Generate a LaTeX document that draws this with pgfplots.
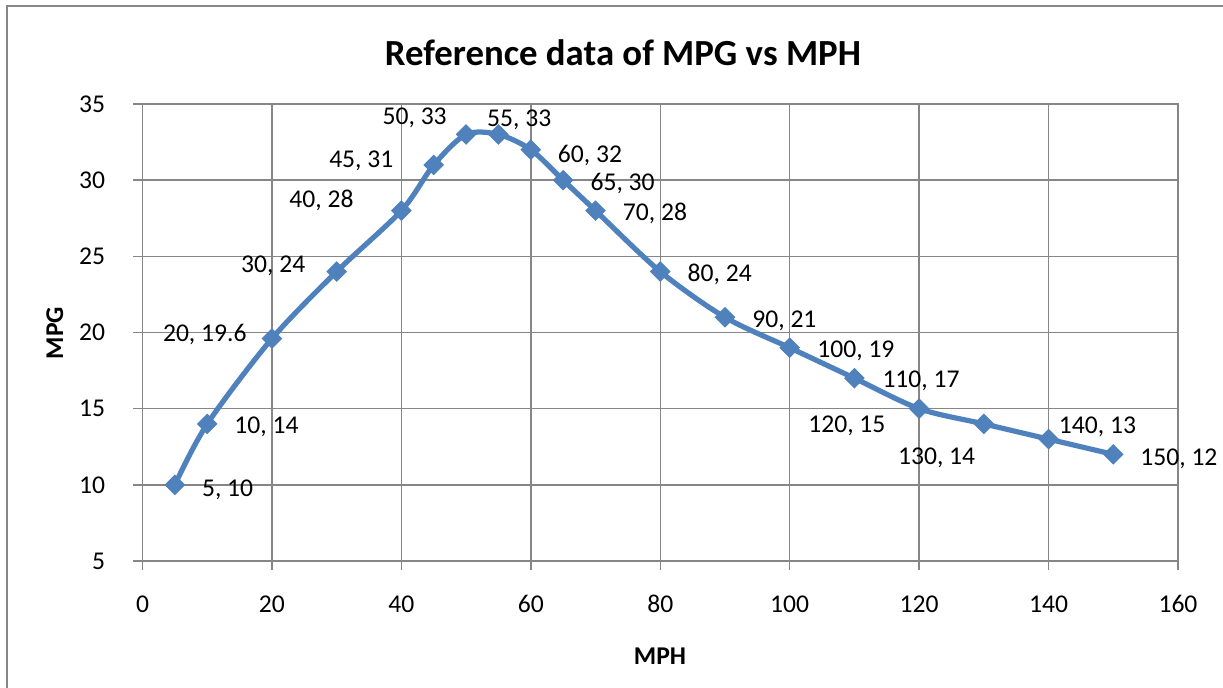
\documentclass[border=0pt]{standalone}
\usepackage{pgfplots}
\pgfplotsset{compat=1.18}
\usepackage{fontspec}
\setmainfont{Carlito}
\definecolor{xlblue}{RGB}{79,129,189}
\definecolor{gridgray}{RGB}{134,134,134}
\newcommand{\lblfont}{\fontsize{12.8}{15}\selectfont}
\begin{document}
\begin{tikzpicture}[x=0.5pt,y=0.5pt]
\useasboundingbox (0,0) rectangle (1223,687);
\draw[gridgray, line width=1pt] (7.3,-50) rectangle (1300,681);
\node[anchor=base, font=\fontsize{18.4}{22}\selectfont\bfseries, inner sep=0pt] at (623,621) {Reference data of MPG vs MPH};
\node[anchor=base, font=\lblfont\bfseries, inner sep=0pt] at (660,22.7) {MPH};
\node[anchor=base, rotate=90, font=\lblfont\bfseries, inner sep=0pt] at (63,354) {MPG};
\begin{axis}[
  at={(71.25pt,63pt)}, anchor=south west,
  scale only axis, width=517.75pt, height=228.5pt,
  xmin=0, xmax=160, ymin=5, ymax=35,
  xtick={0,20,...,160}, ytick={5,10,...,35},
  grid=major,
  grid style={gridgray, line width=0.75pt},
  axis line style={gridgray, line width=0.75pt},
  tick style={gridgray, line width=0.75pt},
  tick align=outside, major tick length=4.5pt,
  tick pos=left,
  clip=false,
  /pgf/number format/assume math mode=true,
  ticklabel style={font=\lblfont, inner sep=0pt},
  yticklabel style={anchor=east, xshift=-14pt},
  xticklabel style={anchor=north, yshift=-12.5pt},
]
\addplot[xlblue, line width=2.6pt, smooth, tension=0.5,
  mark=square*, mark size=3.4pt,
  mark options={rotate=45, fill=xlblue, draw=xlblue, line width=0.5pt}]
  coordinates {
  (5,10) (10,14) (20,19.6) (30,24) (40,28) (45,31) (50,33) (55,33)
  (60,32) (65,30) (70,28) (80,24) (90,21) (100,19) (110,17) (120,15)
  (130,14) (140,13) (150,12)
  };
\node[anchor=base west, inner sep=0pt, font=\lblfont, xshift=13.4pt, yshift=-5.7pt] at (axis cs:5,10) {5, 10};
\node[anchor=base west, inner sep=0pt, font=\lblfont, xshift=13.4pt, yshift=-5.0pt] at (axis cs:10,14) {10, 14};
\node[anchor=base east, inner sep=0pt, font=\lblfont, xshift=-12.5pt, yshift=-1.3pt] at (axis cs:20,19.6) {20, 19.6};
\node[anchor=base east, inner sep=0pt, font=\lblfont, xshift=-15.5pt, yshift=-0.25pt] at (axis cs:30,24) {30, 24};
\node[anchor=base east, inner sep=0pt, font=\lblfont, xshift=-23.7pt, yshift=1.75pt] at (axis cs:40,28) {40, 28};
\node[anchor=base east, inner sep=0pt, font=\lblfont, xshift=-20pt, yshift=-1.25pt] at (axis cs:45,31) {45, 31};
\node[anchor=base east, inner sep=0pt, font=\lblfont, xshift=-9.5pt, yshift=5.2pt] at (axis cs:50,33) {50, 33};
\node[anchor=base west, inner sep=0pt, font=\lblfont, xshift=-5.85pt, yshift=3.75pt] at (axis cs:55,33) {55, 33};
\node[anchor=base west, inner sep=0pt, font=\lblfont, xshift=13.35pt, yshift=-6.6pt] at (axis cs:60,32) {60, 32};
\node[anchor=base west, inner sep=0pt, font=\lblfont, xshift=13.5pt, yshift=-5.1pt] at (axis cs:65,30) {65, 30};
\node[anchor=base west, inner sep=0pt, font=\lblfont, xshift=13.5pt, yshift=-5.1pt] at (axis cs:70,28) {70, 28};
\node[anchor=base west, inner sep=0pt, font=\lblfont, xshift=13.5pt, yshift=-5.1pt] at (axis cs:80,24) {80, 24};
\node[anchor=base west, inner sep=0pt, font=\lblfont, xshift=13.5pt, yshift=-5.1pt] at (axis cs:90,21) {90, 21};
\node[anchor=base west, inner sep=0pt, font=\lblfont, xshift=13.65pt, yshift=-4.95pt] at (axis cs:100,19) {100, 19};
\node[anchor=base west, inner sep=0pt, font=\lblfont, xshift=13.85pt, yshift=-4.45pt] at (axis cs:110,17) {110, 17};
\node[anchor=base east, inner sep=0pt, font=\lblfont, xshift=-16.65pt, yshift=-11.75pt] at (axis cs:120,15) {120, 15};
\node[anchor=base east, inner sep=0pt, font=\lblfont, xshift=-4.15pt, yshift=-20.25pt] at (axis cs:130,14) {130, 14};
\node[anchor=base west, inner sep=0pt, font=\lblfont, xshift=5pt, yshift=2.9pt] at (axis cs:140,13) {140, 13};
\node[anchor=base west, inner sep=0pt, font=\lblfont, xshift=13.35pt, yshift=-5.6pt] at (axis cs:150,12) {150, 12};
\end{axis}
\end{tikzpicture}
\end{document}
